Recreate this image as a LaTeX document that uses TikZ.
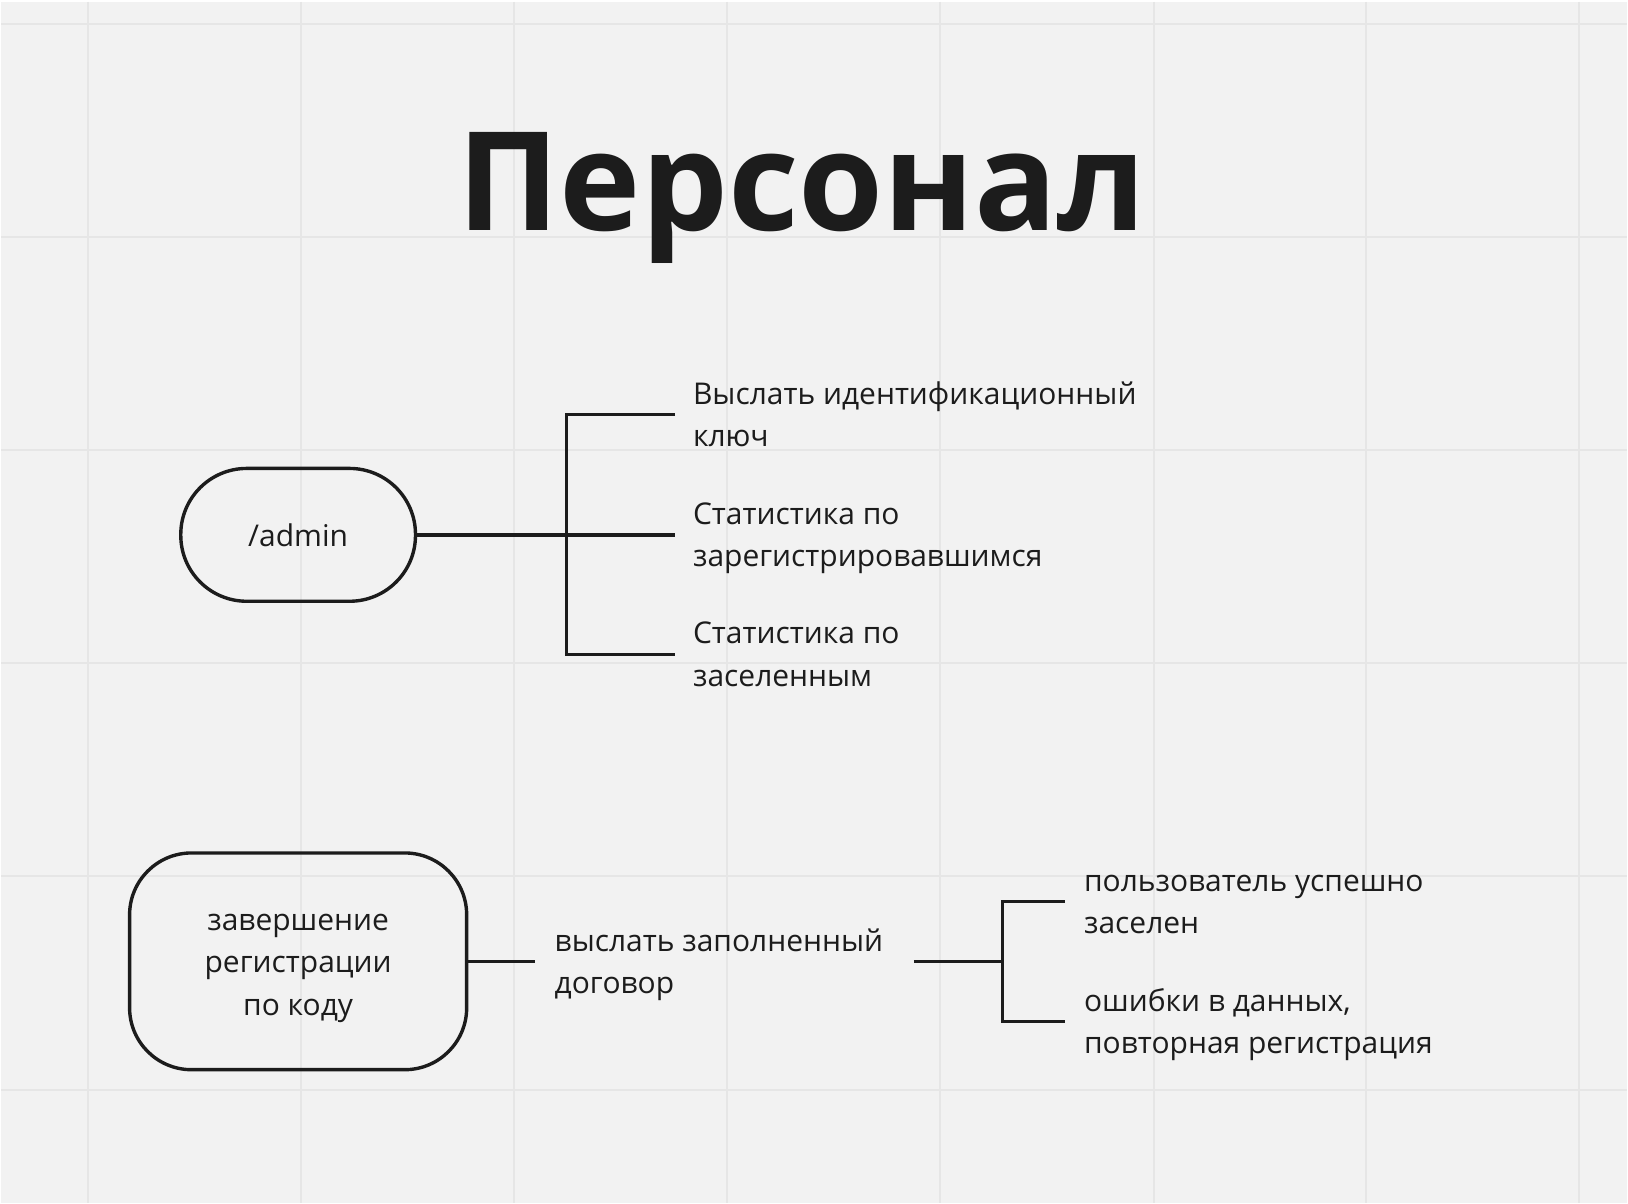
\documentclass[tikz,border=0pt]{standalone}
\usepackage{fontspec}
\setmainfont{Open Sans}
\definecolor{bg}{HTML}{F2F2F2}
\definecolor{gridc}{HTML}{E6E6E6}
\definecolor{ink}{HTML}{1C1C1C}
\newcommand{\lblock}[1]{\raisebox{-1.2pt}[\height][\depth]{\begin{tabular}{@{}l@{}}#1\end{tabular}}}
\newcommand{\cblock}[1]{\raisebox{-1.5pt}[\height][\depth]{\begin{tabular}{@{}c@{}}#1\end{tabular}}}
\tikzset{
  conn/.style={draw=ink, line width=1.7pt},
  roundbox/.style={draw=ink, line width=1.7pt, text=ink,
    font=\fontsize{15}{21.2}\selectfont},
  label/.style={anchor=west, inner ysep=0pt, inner xsep=9.5pt, text=ink,
    font=\fontsize{15}{21.2}\selectfont},
  gridline/.style={draw=gridc, line width=1pt}
}
\begin{document}
\begin{tikzpicture}[x=0.5pt, y=-0.5pt]
  % background and grid
  \fill[bg] (0,0) rectangle (1628,1204);
  \fill[white] (0,0) rectangle (1628,2);
  \foreach \gx in {87,300,514,727,940,1154,1367,1580}
    \draw[gridline] (\gx,2) -- (\gx,1204);
  \foreach \gy in {24,237,451,664,877,1091}
    \draw[gridline] (0,\gy) -- (1628,\gy);
  \useasboundingbox (0,0) rectangle (1628,1204);

  % title
  \node[anchor=base, inner sep=0pt, text=ink, font=\fontsize{68.8}{78}\selectfont\bfseries]
    (title) at (802,230.5) {Персонал};

  % top group
  \node[roundbox, minimum width=117.5pt, minimum height=66.5pt, rounded corners=33pt]
    (admin) at (297.5,535.5) {/admin};
  \coordinate (b1) at (566,535.5);
  \node[label, inner xsep=8.75pt] (t1) at (675,415) {\lblock{Выслать идентификационный\\ключ}};
  \node[label, inner xsep=8.75pt] (t2) at (675,535.5) {\lblock{Статистика по\\зарегистрировавшимся}};
  \node[label, inner xsep=8.75pt] (t3) at (675,655) {\lblock{Статистика по\\заселенным}};
  \draw[conn] (admin.east) -- (t2.west);
  \draw[conn] (t1.west) -- (t1.west -| b1) -- (t3.west -| b1) -- (t3.west);

  % bottom group
  \node[roundbox, minimum width=168.75pt, minimum height=108.5pt, rounded corners=31pt]
    (reg) at (297.5,962.5) {\cblock{завершение\\регистрации\\по коду}};
  \node[label] (send) at (535,962.5) {\lblock{выслать заполненный\\договор}};
  \draw[conn] (reg.east) -- (send.west);
  \coordinate (a0) at (914,962.5);
  \coordinate (b2) at (1003,962.5);
  \node[label] (u1) at (1065,902.5) {\lblock{пользователь успешно\\заселен}};
  \node[label] (u2) at (1065,1023) {\lblock{ошибки в данных,\\повторная регистрация}};
  \draw[conn] (a0) -- (b2);
  \draw[conn] (u1.west) -- (u1.west -| b2) -- (u2.west -| b2) -- (u2.west);
\end{tikzpicture}
\end{document}
